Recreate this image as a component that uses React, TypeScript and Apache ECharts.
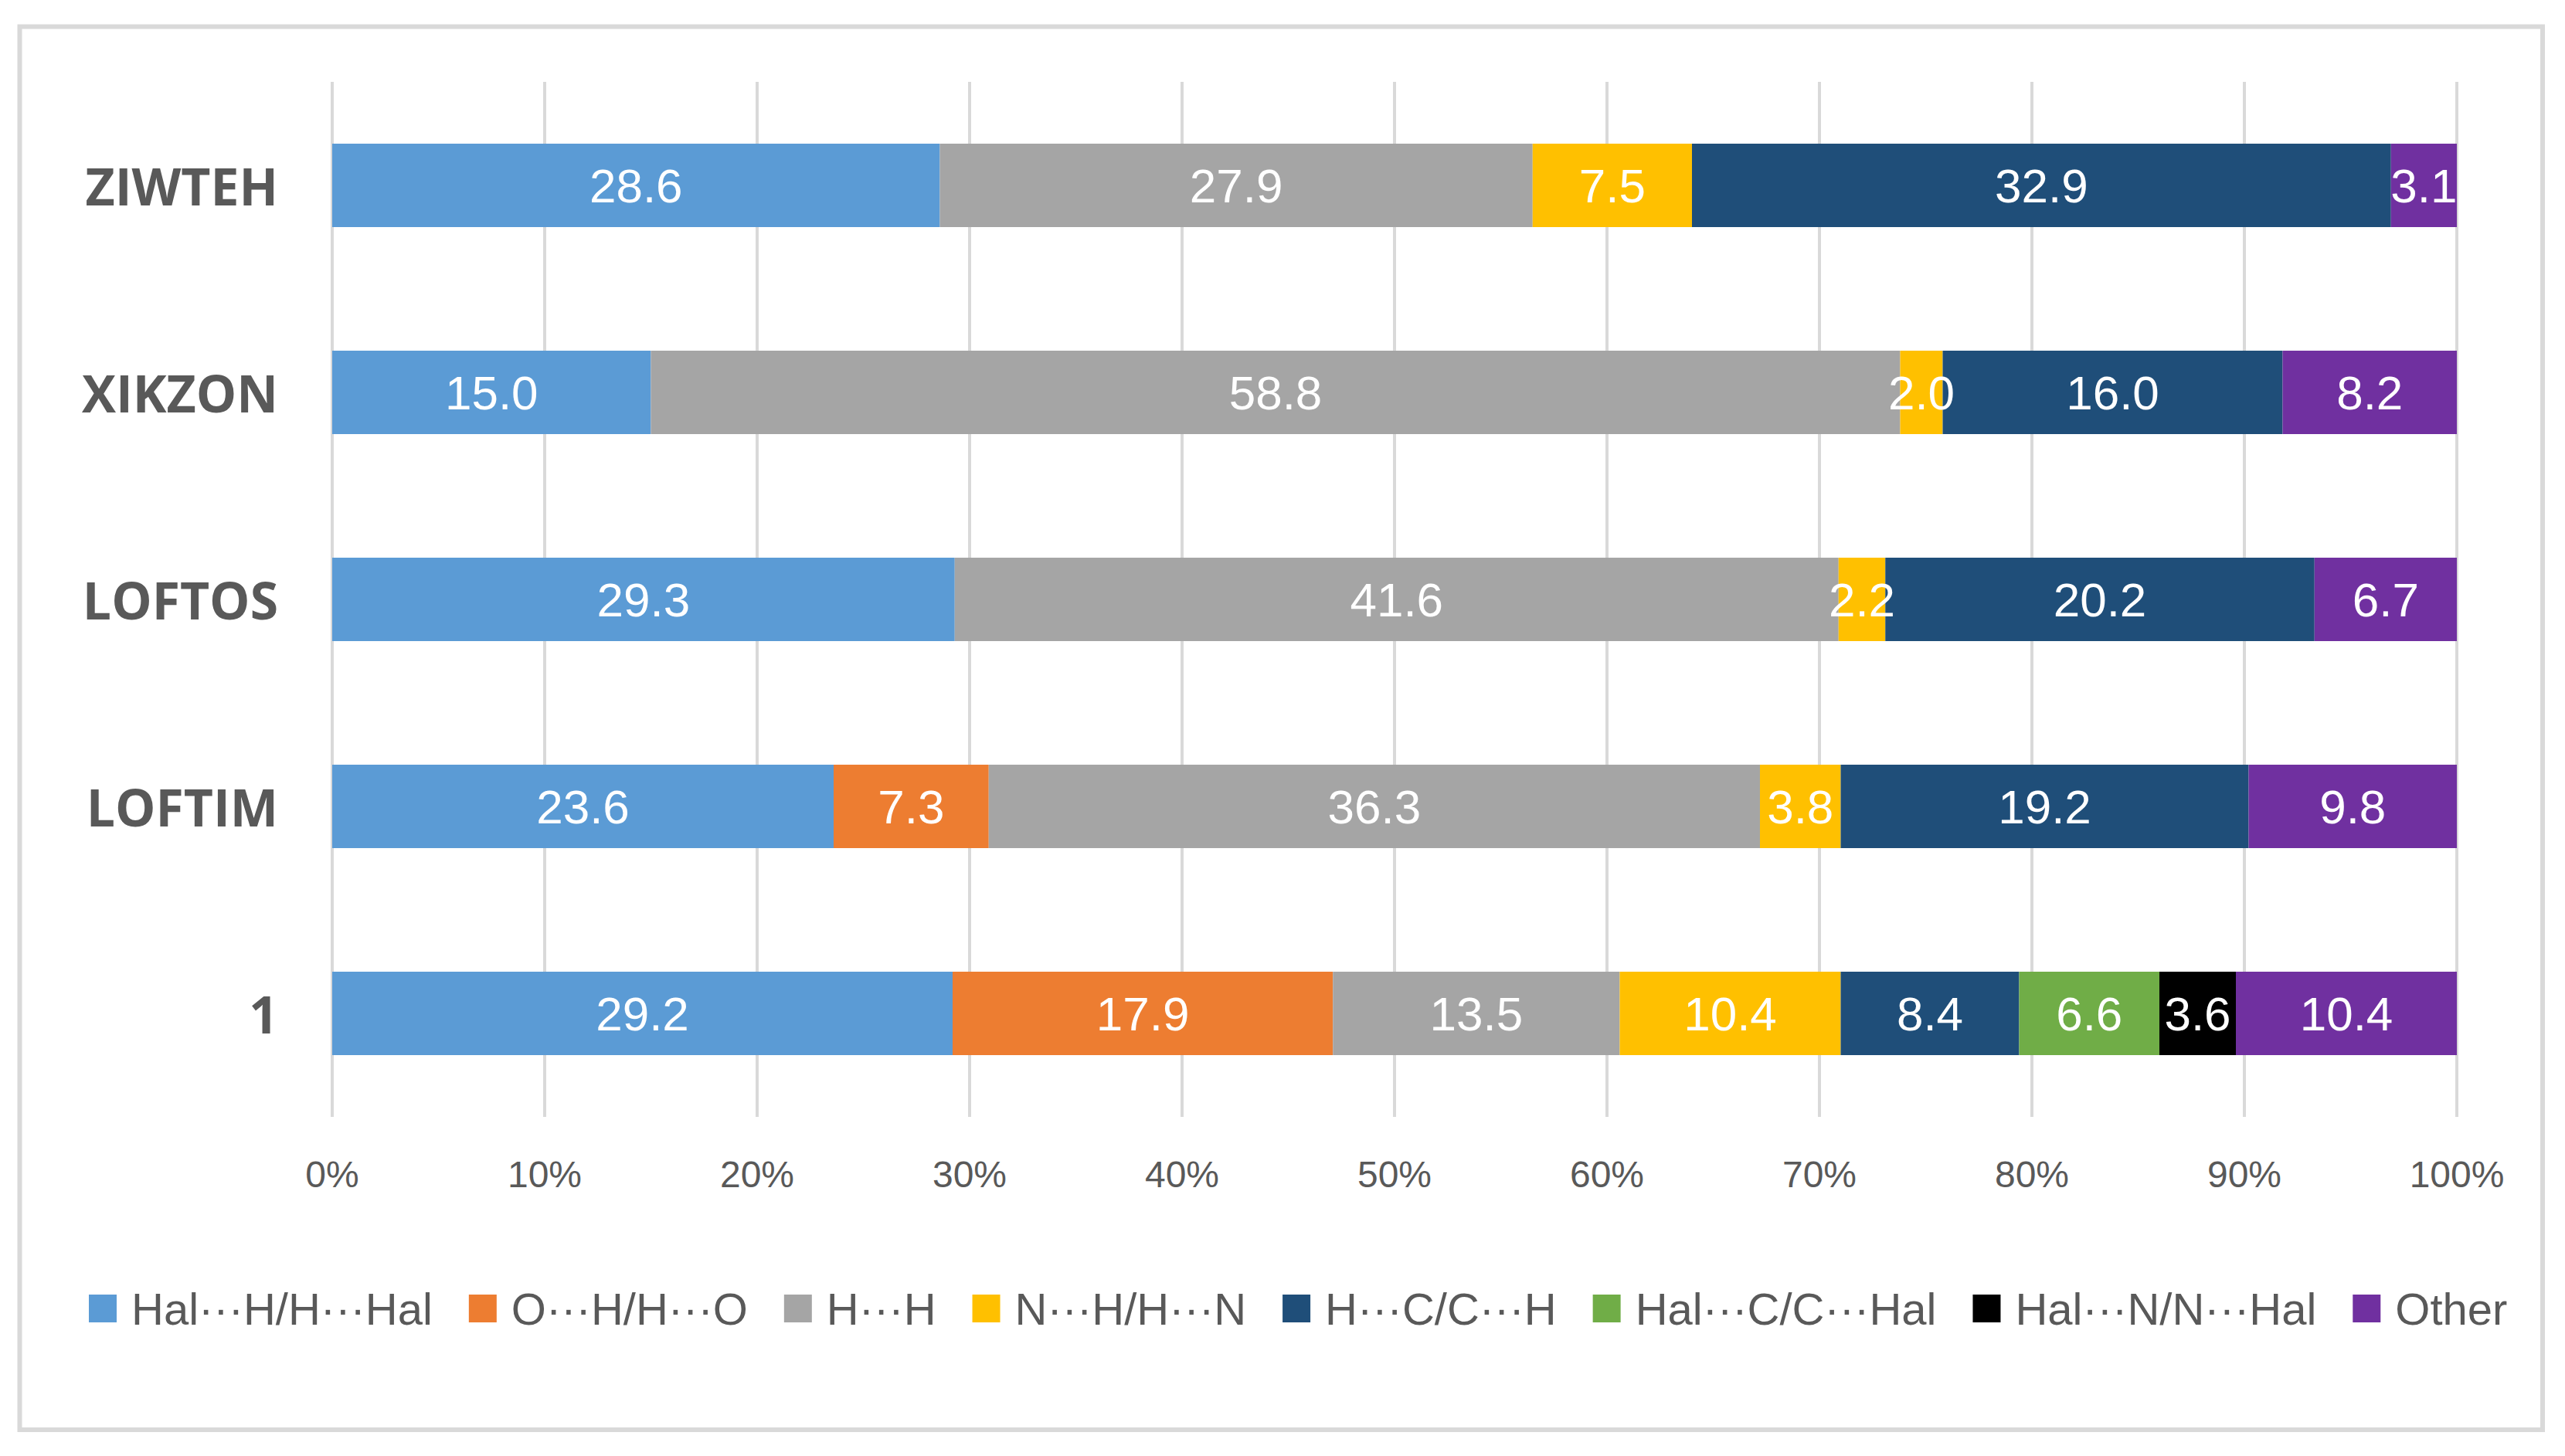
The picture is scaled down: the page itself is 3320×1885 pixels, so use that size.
import React, { useEffect, useRef } from "react";
import * as echarts from "echarts";

const categories = ["1", "LOFTIM", "LOFTOS", "XIKZON", "ZIWTEH"];
const seriesNames = [
  "Hal···H/H···Hal",
  "O···H/H···O",
  "H···H",
  "N···H/H···N",
  "H···C/C···H",
  "Hal···C/C···Hal",
  "Hal···N/N···Hal",
  "Other",
];
const halH = [29.2, 23.6, 29.3, 15.0, 28.6];
const oH = [17.9, 7.3, null, null, null];
const hH = [13.5, 36.3, 41.6, 58.8, 27.9];
const nH = [10.4, 3.8, 2.2, 2.0, 7.5];
const hC = [8.4, 19.2, 20.2, 16.0, 32.9];
const halC = [6.6, null, null, null, null];
const halN = [3.6, null, null, null, null];
const other = [10.4, 9.8, 6.7, 8.2, 3.1];
const seriesValues = [halH, oH, hH, nH, hC, halC, halN, other];
const colors = ["#5B9BD5", "#ED7D31", "#A5A5A5", "#FFC000", "#1F4E79", "#70AD47", "#000000", "#7030A0"];
const xTicks = { min: 0, max: 100, interval: 10 };

export default function App() {
  const ref = useRef<HTMLDivElement>(null);
  useEffect(() => {
    document.body.style.margin = "0";
    const chart = echarts.init(ref.current!, null, { renderer: "svg" });
    chart.setOption({
      animation: false,
      backgroundColor: "#ffffff",
      graphic: [
        {
          type: "rect",
          shape: { x: 25.5, y: 34.5, width: 3265.5, height: 1816.5 },
          style: { fill: "none", stroke: "#d9d9d9", lineWidth: 6 },
          silent: true,
        },
      ],
      grid: { left: 430, right: 140, top: 106, height: 1340 },
      legend: {
        left: 110,
        top: 1660,
        width: 3190,
        itemWidth: 36,
        itemHeight: 36,
        itemGap: 47,
        icon: "rect",
        data: seriesNames,
        textStyle: {
          color: "#595959",
          fontSize: 58,
          fontFamily: "'Liberation Sans', Arial, sans-serif",
          padding: [0, 0, 0, 14],
        },
      },
      xAxis: {
        type: "value",
        min: xTicks.min,
        max: xTicks.max,
        interval: xTicks.interval,
        axisLine: { show: false },
        axisTick: { show: false },
        splitLine: { show: true, lineStyle: { color: "#d9d9d9", width: 4 } },
        axisLabel: {
          formatter: "{value}%",
          color: "#595959",
          fontSize: 48,
          margin: 50,
          fontFamily: "'Liberation Sans', Arial, sans-serif",
        },
      },
      yAxis: {
        type: "category",
        data: categories,
        axisLine: { show: false },
        axisTick: { show: false },
        axisLabel: {
          color: "#595959",
          fontSize: 66,
          fontWeight: "bold",
          margin: 70,
          fontFamily: "'Open Sans', sans-serif",
        },
      },
      series: seriesNames.map((name, i) => ({
        name,
        type: "bar",
        stack: "total",
        barWidth: 108,
        data: seriesValues[i],
        itemStyle: { color: colors[i] },
        label: {
          show: true,
          position: "inside",
          color: "#ffffff",
          fontSize: 62,
          fontFamily: "'Liberation Sans', Arial, sans-serif",
          formatter: (p: any) => (p.value == null ? "" : Number(p.value).toFixed(1)),
        },
      })),
    });
    return () => chart.dispose();
  }, []);
  return <div ref={ref} style={{ width: 3320, height: 1885 }} />;
}
